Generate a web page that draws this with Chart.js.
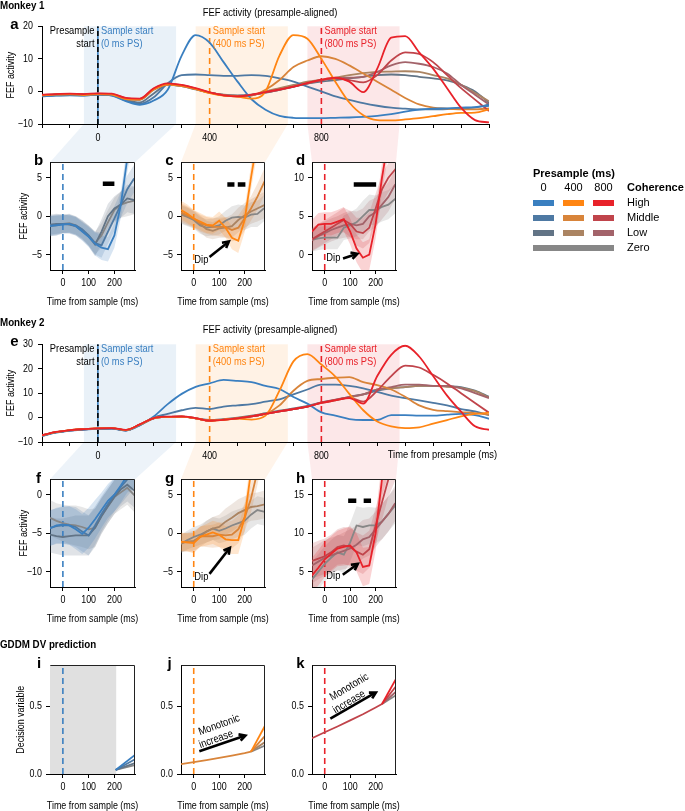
<!DOCTYPE html>
<html>
<head>
<meta charset="utf-8">
<script src="https://cdn.jsdelivr.net/npm/chart.js@4.4.1/dist/chart.umd.min.js"></script>
<style>
  body { margin: 0; background: #fff; }
  #fig { position: relative; width: 685px; height: 811px; overflow: hidden;
         font-family: "Liberation Sans", Arial, sans-serif; color: #000; }
  #fig canvas { position: absolute; }
  .t { position: absolute; white-space: nowrap; line-height: 1; }
  .sw { position: absolute; height: 6px; }
</style>
</head>
<body>
<div id="fig"><canvas id="bg" width="685" height="811" style="left:0;top:0"></canvas></div>
<script>
// ---------- data ----------
// presample-aligned time axis (ms from presample start)
const tPre = [-200,-150,-100,-50,0,50,100,150,200,250,300,350,400,450,500,550,600,650,700,750,800,850,900,950,1000,1050,1100,1150,1200,1250,1300,1350,1400];
const sampleStarts = [0, 400, 800];
const zoomWin = [-50, 280];

// Monkey 1, panel a
const m1BlueHigh   = [-1.5,-1.3,-1.2,-1.3,-1.0,-1.3,-3.0,-4.1,-2.8,0.5,11.0,17.3,15.0,9.0,3.0,-2.4,-5.6,-7.5,-8.1,-8.2,-8.2,-8.1,-8.0,-7.8,-7.5,-7.0,-6.2,-5.6,-5.3,-5.2,-5.0,-4.8,-4.4];
const m1BlueMid    = [-1.4,-1.2,-1.1,-1.2,-1.0,-1.2,-2.8,-3.8,-1.8,2.5,5.0,5.2,5.0,4.8,4.8,5.0,4.8,4.0,3.0,1.5,0.0,-1.5,-2.6,-3.6,-4.4,-5.0,-5.3,-5.5,-5.5,-5.4,-5.2,-5.0,-4.0];
const m1BlueLow    = [-1.3,-1.1,-1.0,-1.2,-0.9,-1.1,-2.6,-3.4,-0.6,2.0,1.6,0.6,-0.4,-1.0,-1.2,-1.0,-0.4,0.5,1.5,2.4,3.0,3.5,4.0,4.5,5.0,5.2,5.0,4.5,4.0,3.4,2.0,0.0,-3.5];
const m1OrangeHigh = [-1.2,-1.0,-0.9,-1.1,-0.8,-1.0,-2.3,-2.4,0.7,2.2,1.8,0.8,-0.5,-1.3,-1.6,-2.2,0.0,11.0,17.3,16.2,10.0,3.0,-3.4,-7.3,-8.8,-8.9,-8.6,-8.2,-7.6,-7.0,-6.6,-6.5,-5.5];
const m1OrangeMid  = [-1.2,-1.0,-0.9,-1.1,-0.9,-1.0,-2.4,-2.5,0.6,2.0,1.7,0.7,-0.4,-1.2,-1.5,-1.3,0.5,3.5,7.5,9.5,10.8,10.0,8.0,5.5,3.0,0.5,-2.0,-4.0,-5.0,-5.3,-5.5,-5.5,-5.2];
const m1OrangeLow  = [-1.1,-0.9,-0.8,-1.0,-0.8,-1.0,-2.3,-2.6,0.5,2.0,1.6,0.7,-0.4,-1.1,-1.4,-1.2,0.0,1.0,2.0,3.0,3.6,4.2,5.0,5.6,6.0,6.1,6.2,6.0,5.0,4.0,2.0,-0.5,-3.0];
const m1RedHigh    = [-1.0,-0.8,-0.7,-0.8,-0.6,-0.7,-2.0,-2.2,1.0,2.5,2.0,1.0,-0.3,-1.2,-1.5,-1.0,-0.2,0.6,1.5,2.6,3.6,4.2,3.0,-0.2,7.0,16.5,17.0,12.0,7.0,1.0,-5.0,-8.8,-9.5];
const m1RedMid     = [-1.1,-0.9,-0.8,-0.9,-0.7,-0.8,-2.1,-2.3,0.8,2.3,1.9,0.9,-0.3,-1.2,-1.5,-1.1,-0.3,0.5,1.5,2.5,3.5,4.0,3.5,2.8,5.0,9.5,12.0,11.5,9.0,5.0,1.0,-2.5,-6.0];
const m1RedLow     = [-1.1,-0.9,-0.8,-0.9,-0.8,-0.9,-2.2,-2.4,0.7,2.1,1.8,0.8,-0.4,-1.1,-1.4,-1.1,-0.3,0.5,1.4,2.4,3.4,4.0,4.2,4.5,6.0,8.0,9.0,8.5,7.5,5.5,2.0,-1.0,-4.0];

// Monkey 2, panel e
const m2BlueHigh   = [-7.5,-6.2,-5.3,-4.9,-4.6,-4.5,-5.3,-3.2,0.5,5.5,9.7,12.6,14.0,15.4,15.0,14.5,13.0,11.7,8.4,5.7,2.1,0.8,-0.6,-1.0,-1.0,1.0,1.0,0.8,0.8,1.2,1.5,1.0,-0.5];
const m2BlueMid    = [-7.4,-6.1,-5.2,-4.8,-4.5,-4.4,-5.2,-3.0,0.0,1.5,3.0,4.0,3.5,4.5,5.0,5.5,6.5,7.5,9.5,11.5,13.5,13.5,13.0,12.0,10.5,9.0,8.0,7.0,6.0,5.0,3.5,2.5,1.0];
const m2BlueLow    = [-7.3,-6.0,-5.2,-4.8,-4.5,-4.4,-5.2,-3.0,-0.3,0.3,0.4,-0.3,-1.0,-0.6,0.0,0.8,1.8,2.8,3.8,4.8,6.2,7.2,8.5,9.5,11.0,12.0,12.5,13.0,13.0,12.8,12.5,11.0,8.5];
const m2OrangeHigh = [-7.3,-6.0,-5.1,-4.7,-4.4,-4.3,-5.1,-2.9,-0.2,0.3,0.4,-0.3,-1.3,-0.9,-0.4,-0.8,0.8,11.0,23.0,26.0,21.7,16.8,9.7,3.0,-1.6,-3.6,-4.3,-4.0,-2.5,-1.0,0.5,1.5,2.0];
const m2OrangeMid  = [-7.3,-6.0,-5.1,-4.7,-4.4,-4.3,-5.1,-2.9,-0.2,0.3,0.4,-0.3,-1.2,-0.8,-0.2,0.6,1.5,5.0,11.0,15.0,15.8,16.3,16.6,14.5,13.3,11.5,8.5,5.0,3.2,2.6,2.2,1.8,1.2];
const m2OrangeLow  = [-7.3,-6.0,-5.2,-4.8,-4.5,-4.4,-5.2,-3.0,-0.3,0.3,0.4,-0.3,-1.2,-0.8,-0.3,0.5,1.5,2.5,3.5,4.5,6.0,7.0,8.3,9.5,11.5,12.0,12.5,13.0,13.0,12.6,12.2,10.8,8.2];
const m2RedHigh    = [-7.2,-5.9,-5.1,-4.7,-4.4,-4.3,-5.0,-2.8,-0.2,0.4,0.5,-0.2,-1.3,-0.9,-0.3,0.5,1.5,2.5,3.5,4.5,6.0,7.0,8.0,5.7,17.0,25.7,29.4,25.0,17.0,9.0,2.4,-3.6,-5.0];
const m2RedMid     = [-7.3,-6.0,-5.2,-4.8,-4.5,-4.4,-5.1,-2.9,-0.3,0.3,0.4,-0.3,-1.2,-0.8,-0.3,0.5,1.5,2.5,3.5,4.5,6.1,7.2,8.2,6.5,11.0,17.0,21.3,20.5,17.5,14.0,10.0,6.0,2.0];
const m2RedLow     = [-7.3,-6.0,-5.2,-4.8,-4.5,-4.4,-5.2,-3.0,-0.3,0.3,0.4,-0.3,-1.2,-0.8,-0.3,0.5,1.5,2.5,3.5,4.5,6.2,7.3,8.5,9.5,11.5,12.5,13.5,13.5,13.0,13.0,12.0,10.0,8.0];

// sample-aligned zoom panels (ms from sample start)
const tS = [-50,-25,0,25,50,75,100,125,150,175,200,225,250,275,300];

const bHigh = [-1.3,-1.2,-1.1,-1.0,-1.3,-2.0,-2.7,-3.6,-4.1,-4.3,-2.5,1.5,7.5,12,16];
const bMid  = [-1.2,-1.1,-1.0,-1.0,-1.2,-1.7,-2.5,-3.5,-3.8,-2.0,-0.3,1.5,3.5,4.8,5.5];
const bLow  = [-1.1,-1.0,-1.0,-1.1,-1.3,-1.9,-2.6,-3.7,-2.0,0.0,1.0,1.5,2.3,2.1,2.5];
const bZero = [-1.3,-1.2,-1.0,-0.9,-1.2,-1.8,-2.5,-3.5,-2.5,-0.8,0.8,1.5,1.8,2.0,2.2];
const bErr  = [1.3,1.3,1.2,1.2,1.2,1.2,1.3,1.5,1.6,1.6,1.6,1.7,1.8,1.8,1.8];
const bBars = [[155, 200, 4.2]];

const cHigh = [0.8,0.3,-0.3,-0.7,-1.1,-1.2,-0.6,-1.5,-2.8,-3.2,-0.5,5,10,15,20];
const cMid  = [0.5,0.1,-0.3,-0.9,-1.2,-1.4,-1.4,-1.4,-1.8,-1.5,-0.3,1.0,2.5,4.3,6];
const cLow  = [0.3,0.0,-0.4,-1.0,-1.7,-1.9,-1.6,-1.5,-1.3,-0.5,0.1,0.6,1.0,1.4,1.6];
const cZero = [0.2,-0.1,-0.5,-1.2,-1.5,-1.4,-1.2,-0.6,-0.2,-0.1,-0.2,0.2,0.3,1.0,1.2];
const cErr  = [1.2,1.2,1.1,1.1,1.1,1.1,1.2,1.3,1.5,1.6,1.6,1.6,1.7,1.7,1.7];
const cBars = [[132, 160, 4.1], [173, 203, 4.1]];

const dHigh = [3.0,3.9,4.0,4.0,4.3,4.6,3.0,0.8,-0.4,0.0,4.0,10,15,20,25];
const dMid  = [2.0,2.5,3.0,3.5,4.0,4.5,4.0,3.0,2.8,3.5,6.0,8.5,10,11,12];
const dLow  = [1.9,2.4,2.8,3.2,3.5,3.8,4.0,3.8,4.0,5.0,5.5,6.5,7.5,9,10];
const dZero = [1.9,2.1,2.2,2.2,2.2,3.5,3.8,4.2,5.0,5.8,5.8,6.2,6.5,7.2,7.5];
const dErr  = [1.5,1.5,1.5,1.5,1.5,1.6,1.7,1.8,2.0,2.0,1.9,1.9,1.9,1.9,1.9];
const dBars = [[114, 202, 9.1]];

const fHigh = [-4.4,-4.0,-3.9,-4.0,-4.5,-5.1,-4.3,-3.2,-2.0,-0.8,0.0,1.2,2.5,3.0,3.5];
const fMid  = [-4.3,-4.1,-4.0,-4.0,-4.2,-4.8,-5.3,-4.0,-2.5,-1.2,0.0,1.0,2.0,3.0,3.5];
const fLow  = [-5.2,-5.4,-5.5,-5.4,-5.3,-5.3,-5.3,-4.3,-2.8,-1.5,-0.3,0.7,1.3,0.6,0.3];
const fZero = [-3.0,-3.4,-3.7,-3.9,-4.0,-4.2,-4.5,-4.3,-2.7,-1.5,-0.3,0.3,0.9,0.0,-0.8];
const fErr  = [2.3,2.3,2.4,2.5,2.6,2.6,2.6,2.5,2.3,2.2,2.2,2.2,2.2,2.2,2.2];

const gHigh = [-1.1,-1.2,-1.3,-0.5,-0.2,0.1,-0.2,-0.8,-0.9,-0.9,2.0,8,14,20,25];
const gMid  = [-1.2,-1.2,-1.2,-0.4,-0.4,-0.4,-0.2,-0.3,-0.2,0.5,2.0,4.5,8,12,15];
const gLow  = [-1.3,-1.1,-1.0,-0.5,0.2,0.6,0.8,1.5,2.0,2.6,3.0,3.4,3.5,3.7,3.8];
const gZero = [-1.4,-0.9,-0.5,-0.2,0.2,0.6,0.3,0.6,1.0,1.3,1.6,2.4,3.0,2.8,2.9];
const gErr  = [1.2,1.2,1.3,1.3,1.4,1.5,1.6,1.7,1.8,1.8,1.8,1.8,1.8,1.8,1.8];

const hHigh = [4.5,5.5,6.6,7.3,8.0,8.2,8.4,7.5,5.6,5.8,10,17,20,24,28];
const hMid  = [6.4,6.7,7.0,7.5,8.2,8.4,8.2,7.6,7.2,7.9,11,14,17,19,21];
const hLow  = [5.8,6.3,6.8,7.1,7.4,7.7,8.0,8.5,9.2,9.5,10.5,11.5,12.5,13.8,14.5];
const hZero = [4.0,5.0,6.0,6.8,7.5,7.2,8.8,11,10.8,11,11,11.5,12.5,13.5,14];
const hErr  = [2.3,2.3,2.3,2.3,2.3,2.4,2.5,2.5,2.5,2.4,2.3,2.3,2.3,2.3,2.3];
const hBars = [[92, 124, 14.2], [153, 182, 14.2]];

// GDDM decision-variable predictions
const iShade = [-50, 207];
const iFanT  = [205, 280];
const iHigh = [0.03, 0.14], iMid = [0.03, 0.108], iLow = [0.03, 0.08], iZero = [0.03, 0.065];

const dvBaseT = [-50, 0, 50, 100, 150, 200, 225];
const jBase = [0.072, 0.088, 0.102, 0.118, 0.135, 0.153, 0.165];
const jFanT = [225, 280];
const jHigh = [0.165, 0.355], jMid = [0.165, 0.28], jLow = [0.165, 0.235], jZero = [0.165, 0.21];

const kBase = [0.263, 0.307, 0.35, 0.395, 0.44, 0.49, 0.515];
const kFanT = [225, 280];
const kHigh = [0.515, 0.70], kMid = [0.515, 0.645], kLow = [0.515, 0.605], kZero = [0.515, 0.58];

// axis ticks
const preTicks = [-200,-100,0,100,200,300,400,500,600,700,800,900,1000,1100,1200,1300,1400];
const preLabels = [0, 400, 800];
const sTicks = [0, 100, 200];

// ---------- styles ----------
const SQUEEZE = 0.85;   // the figure uses a condensed face; squeeze canvas text to match
const FONT = '"Liberation Sans", Arial, sans-serif';
Chart.defaults.font.family = FONT;
Chart.defaults.font.size = 10.5;
Chart.defaults.color = '#000';

// draw all canvas text horizontally condensed around its anchor point
// (maxWidth is dropped so axis titles are not squashed to the plot width)
const rawFillText = CanvasRenderingContext2D.prototype.fillText;
CanvasRenderingContext2D.prototype.fillText = function (t, x, y) {
  this.save();
  this.translate(x, y);
  this.scale(SQUEEZE, 1);
  rawFillText.call(this, t, 0, 0);
  this.restore();
};

const COL = {
  blue:   ['#3a7fc0', '#4e79a3', '#627486'],
  orange: ['#ff8512', '#d8843a', '#ab8462'],
  red:    ['#e8222a', '#c0444b', '#a3636a'],
  zero: '#878787'
};
const groupCols = [COL.blue, COL.orange, COL.red];

function rgba(hex, a) {
  const n = parseInt(hex.slice(1), 16);
  return `rgba(${n >> 16},${(n >> 8) & 255},${n & 255},${a})`;
}

const fig = document.getElementById('fig');

// ---------- plugins ----------
const spanPlugin = {
  id: 'spans',
  beforeDatasetsDraw(chart, args, o) {
    const {ctx, chartArea: ca} = chart, xs = chart.scales.x;
    (o.list || []).forEach(s => {
      const x1 = Math.max(ca.left, xs.getPixelForValue(s.from));
      const x2 = Math.min(ca.right, xs.getPixelForValue(s.to));
      ctx.fillStyle = s.color;
      ctx.fillRect(x1, ca.top, x2 - x1, ca.bottom - ca.top);
    });
  }
};

const boxPlugin = {
  id: 'box',
  afterDraw(chart, args, o) {
    if (!o.on) return;
    const {ctx, chartArea: ca} = chart;
    ctx.save();
    ctx.strokeStyle = '#222';
    ctx.lineWidth = 1;
    ctx.beginPath();
    ctx.moveTo(Math.round(ca.left) + 0.5, Math.round(ca.top) + 0.5);
    ctx.lineTo(Math.round(ca.right) - 0.5, Math.round(ca.top) + 0.5);
    ctx.lineTo(Math.round(ca.right) - 0.5, Math.round(ca.bottom));
    ctx.stroke();
    ctx.restore();
  }
};

const notePlugin = {
  id: 'notes',
  afterDatasetsDraw(chart, args, o) {
    const {ctx} = chart, xs = chart.scales.x, ys = chart.scales.y;
    ctx.save();
    (o.arrows || []).forEach(a => {
      const x1 = xs.getPixelForValue(a[0]), y1 = ys.getPixelForValue(a[1]);
      const x2 = xs.getPixelForValue(a[2]), y2 = ys.getPixelForValue(a[3]);
      const ang = Math.atan2(y2 - y1, x2 - x1), hl = 7;
      ctx.strokeStyle = '#000';
      ctx.lineWidth = 2.6;
      ctx.lineCap = 'butt';
      ctx.beginPath();
      ctx.moveTo(x1, y1);
      ctx.lineTo(x2 - Math.cos(ang) * 1.5, y2 - Math.sin(ang) * 1.5);
      ctx.stroke();
      ctx.lineJoin = 'miter';
      ctx.beginPath();
      ctx.moveTo(x2 - hl * Math.cos(ang - 0.5), y2 - hl * Math.sin(ang - 0.5));
      ctx.lineTo(x2, y2);
      ctx.lineTo(x2 - hl * Math.cos(ang + 0.5), y2 - hl * Math.sin(ang + 0.5));
      ctx.stroke();
    });
    (o.texts || []).forEach(t => {
      ctx.save();
      ctx.translate(xs.getPixelForValue(t.x), ys.getPixelForValue(t.y));
      ctx.rotate((t.rot || 0) * Math.PI / 180);
      ctx.font = `${t.size || 11}px ${FONT}`;
      ctx.fillStyle = t.color || '#000';
      ctx.textAlign = t.align || 'center';
      ctx.textBaseline = 'middle';
      ctx.fillText(t.text, 0, 0);
      ctx.restore();
    });
    ctx.restore();
  }
};

// ---------- helpers ----------
function pts(xs, ys) { return xs.map((x, i) => ({x, y: ys[i]})); }

function line(xs, ys, color, width, order, extra) {
  return Object.assign({data: pts(xs, ys), borderColor: color, borderWidth: width,
    pointRadius: 0, fill: false, tension: 0, order}, extra || {});
}

function band(xs, ys, err, color) {
  return [
    {data: xs.map((x, i) => ({x, y: ys[i] + err[i]})), borderWidth: 0, pointRadius: 0,
     fill: '+1', backgroundColor: rgba(color, 0.2), order: 10},
    {data: xs.map((x, i) => ({x, y: ys[i] - err[i]})), borderWidth: 0, pointRadius: 0,
     fill: false, order: 10}
  ];
}

function vline(x, lim, color, dash, width, order) {
  return {data: [{x, y: lim[0]}, {x, y: lim[1]}], borderColor: color, borderWidth: width || 1.5,
    borderDash: dash || [], pointRadius: 0, fill: false, order: order ?? 5};
}

function fmtTick(v, o) {
  if (o.show && !o.show.includes(v)) return '';
  const s = o.dec ? v.toFixed(o.dec) : String(v);
  return s.replace('-', '\u2212');
}

function axis(o, dir, size) {
  return {
    type: 'linear', min: o.min, max: o.max,
    afterBuildTicks: s => { s.ticks = o.ticks.map(v => ({value: v})); },
    afterFit: s => { if (dir === 'x') s.height = size; else s.width = size; },
    ticks: {autoSkip: false, maxRotation: 0, padding: o.pad ?? 3, color: '#000',
            font: {size: 10.5}, callback: v => fmtTick(v, o)},
    grid: {drawOnChartArea: false, drawTicks: true, tickLength: 4, tickColor: '#000', tickWidth: 1},
    border: {display: true, color: '#000', width: 1},
    title: {display: !!o.title, text: o.title || '', padding: 0, color: '#000', font: {size: 10.5}}
  };
}

// box: [L, T, R, B] of plot area; pad: [left, top, right, bottom]
function panel(box, pad, opt) {
  const cv = document.createElement('canvas');
  const w = box[2] - box[0] + pad[0] + pad[2], h = box[3] - box[1] + pad[1] + pad[3];
  cv.width = w; cv.height = h;
  cv.style.left = (box[0] - pad[0]) + 'px';
  cv.style.top = (box[1] - pad[1]) + 'px';
  cv.style.width = w + 'px'; cv.style.height = h + 'px';
  fig.appendChild(cv);
  const chart = new Chart(cv.getContext('2d'), {
    type: 'line',
    data: {datasets: opt.datasets},
    options: {
      responsive: false, animation: false, devicePixelRatio: 1,
      layout: {padding: {left: 0, top: pad[1], right: pad[2], bottom: 0}},
      scales: {x: axis(opt.x, 'x', pad[3]), y: axis(opt.y, 'y', pad[0])},
      plugins: {legend: {display: false}, tooltip: {enabled: false},
                spans: {list: opt.spans || []}, box: {on: !!opt.box}, notes: opt.notes || {}}
    },
    plugins: [spanPlugin, boxPlugin, notePlugin]
  });
  chart.$left = box[0] - pad[0];
  chart.$top = box[1] - pad[1];
  return chart;
}

function text(str, x, y, o) {
  o = o || {};
  const d = document.createElement('div');
  d.className = 't';
  d.textContent = str;
  const size = o.size || 10.5;
  d.style.fontSize = size + 'px';
  d.style.top = (y - size / 2) + 'px';
  d.style.left = x + 'px';
  if (o.bold) d.style.fontWeight = 'bold';
  if (o.color) d.style.color = o.color;
  const sx = o.squeeze ? ` scaleX(${SQUEEZE})` : '';
  const align = o.align || 'left';
  d.style.transformOrigin = align + ' center';
  if (align === 'center') d.style.transform = 'translateX(-50%)' + sx;
  else if (align === 'right') d.style.transform = 'translateX(-100%)' + sx;
  else d.style.transform = sx || 'none';
  fig.appendChild(d);
}

// ---------- presample-aligned panels (a, e) ----------
function bigPanel(box, series, yLim, yTicks, labelY) {
  const ds = [];
  // highs on top, then middles, lows
  [0, 1, 2].forEach(c => {
    [2, 1, 0].forEach(g => ds.push(line(tPre, series[g][c], groupCols[g][c], 1.8, c * 3 + (2 - g),
      {cubicInterpolationMode: 'monotone'})));
  });
  ds.push(vline(sampleStarts[0], yLim, COL.blue[0], [], 1.6, 6));
  ds.push(vline(sampleStarts[0], yLim, '#000', [5, 3], 1.6, 5));
  ds.push(vline(sampleStarts[1], yLim, COL.orange[0], [6, 4], 1.6, 5));
  ds.push(vline(sampleStarts[2], yLim, COL.red[0], [6, 4], 1.6, 5));
  const spans = sampleStarts.map((s, g) => ({from: s + zoomWin[0], to: s + zoomWin[1],
    color: rgba(groupCols[g][0], 0.11)}));
  const texts = [
    {x: -12, y: labelY[0], text: 'Presample', align: 'right'},
    {x: -12, y: labelY[1], text: 'start', align: 'right'}
  ];
  sampleStarts.forEach((s, g) => {
    texts.push({x: s + 11, y: labelY[0], text: 'Sample start', align: 'left', color: groupCols[g][0]});
    texts.push({x: s + 11, y: labelY[1], text: `(${s} ms PS)`, align: 'left', color: groupCols[g][0]});
  });
  return panel(box, [37, 8, 8, 22], {
    datasets: ds, spans, notes: {texts},
    x: {min: preTicks[0], max: preTicks[preTicks.length - 1], ticks: preTicks, show: preLabels, pad: 4},
    y: {min: yLim[0], max: yLim[1], ticks: yTicks, title: 'FEF activity', pad: 5}
  });
}

const chartA = bigPanel([42, 23, 489, 124],
  [[m1BlueHigh, m1BlueMid, m1BlueLow], [m1OrangeHigh, m1OrangeMid, m1OrangeLow], [m1RedHigh, m1RedMid, m1RedLow]],
  [-10, 20], [-10, 0, 10, 20], [18.7, 14.6]);
const chartE = bigPanel([42, 341, 489, 442],
  [[m2BlueHigh, m2BlueMid, m2BlueLow], [m2OrangeHigh, m2OrangeMid, m2OrangeLow], [m2RedHigh, m2RedMid, m2RedLow]],
  [-10, 30], [-10, 0, 10, 20, 30], [28.0, 22.8]);

// ---------- sample-aligned zoom panels ----------
function zoomPanel(box, g, series, err, yLim, yTicks, bars, notes, yTitle) {
  const cols = [groupCols[g][0], groupCols[g][1], groupCols[g][2], COL.zero];
  const ds = [];
  series.forEach((s, c) => ds.push(line(tS, s, cols[c], 1.8, c)));
  series.forEach((s, c) => ds.push(...band(tS, s, err, cols[c])));
  ds.push(vline(sampleStarts[0], yLim, groupCols[g][0], [6, 4], 1.6, 5));
  (bars || []).forEach(b => ds.push({data: [{x: b[0], y: b[2]}, {x: b[1], y: b[2]}],
    borderColor: '#000', borderWidth: 4.5, borderCapStyle: 'butt', pointRadius: 0, fill: false, order: -1}));
  return panel(box, [32, 8, 4, 38], {
    datasets: ds, box: true, notes,
    x: {min: zoomWin[0], max: zoomWin[1], ticks: sTicks, title: 'Time from sample (ms)'},
    y: {min: yLim[0], max: yLim[1], ticks: yTicks, title: yTitle, pad: 4}
  });
}

const dipOpts = (tx, ty, ax) => ({texts: [{x: tx, y: ty, text: 'Dip'}], arrows: [ax]});

const row1 = [160, 270], row2 = [477, 587], row3 = [663, 774];
const colX = [[50, 135], [181, 265], [312, 396]];

const chartB = zoomPanel([colX[0][0], row1[0], colX[0][1], row1[1]], 0, [bHigh, bMid, bLow, bZero], bErr,
  [-7, 7], [-5, 0, 5], bBars, {}, 'FEF activity');
const chartC = zoomPanel([colX[1][0], row1[0], colX[1][1], row1[1]], 1, [cHigh, cMid, cLow, cZero], cErr,
  [-7, 7], [-5, 0, 5], cBars, dipOpts(30, -5.7, [62, -5.3, 138, -3.3]));
const chartD = zoomPanel([colX[2][0], row1[0], colX[2][1], row1[1]], 2, [dHigh, dMid, dLow, dZero], dErr,
  [-2, 12], [0, 5, 10], dBars, dipOpts(34, -0.5, [72, -0.5, 128, 0.1]));

const chartF = zoomPanel([colX[0][0], row2[0], colX[0][1], row2[1]], 0, [fHigh, fMid, fLow, fZero], fErr,
  [-12, 2], [-10, -5, 0], [], {}, 'FEF activity');
const chartG = zoomPanel([colX[1][0], row2[0], colX[1][1], row2[1]], 1, [gHigh, gMid, gLow, gZero], gErr,
  [-7, 7], [-5, 0, 5], [], dipOpts(30, -5.7, [62, -5.3, 142, -1.9]));
const chartH = zoomPanel([colX[2][0], row2[0], colX[2][1], row2[1]], 2, [hHigh, hMid, hLow, hZero], hErr,
  [3, 17], [5, 10, 15], hBars, dipOpts(34, 4.4, [71, 4.6, 130, 6.0]));

// ---------- GDDM panels ----------
function dvPanel(box, g, baseT, base, fanT, fans, extra, yTitle) {
  const cols = [groupCols[g][0], groupCols[g][1], groupCols[g][2], COL.zero];
  const ds = [];
  fans.forEach((f, c) => ds.push(line(fanT, f, cols[c], 1.8, c)));
  if (base) ds.push(line(baseT, base, groupCols[g][1], 1.8, 4));
  ds.push(vline(sampleStarts[0], [0, 0.8], groupCols[g][0], [6, 4], 1.6, 5));
  return panel(box, [35, 8, 4, 38], Object.assign({
    datasets: ds, box: true,
    x: {min: zoomWin[0], max: zoomWin[1], ticks: sTicks, title: 'Time from sample (ms)'},
    y: {min: 0, max: 0.8, ticks: [0, 0.5], dec: 1, title: yTitle, pad: 4}
  }, extra));
}

const chartI = dvPanel([colX[0][0], row3[0], colX[0][1], row3[1]], 0, null, null, iFanT,
  [iHigh, iMid, iLow, iZero], {spans: [{from: iShade[0], to: iShade[1], color: '#e0e0e0'}]}, 'Decision variable');
const chartJ = dvPanel([colX[1][0], row3[0], colX[1][1], row3[1]], 1, dvBaseT, jBase, jFanT,
  [jHigh, jMid, jLow, jZero], {notes: {
    texts: [{x: 100, y: 0.36, text: 'Monotonic', rot: -20}, {x: 88, y: 0.255, text: 'increase', rot: -20}],
    arrows: [[22, 0.167, 203, 0.283]]}});
const chartK = dvPanel([colX[2][0], row3[0], colX[2][1], row3[1]], 2, dvBaseT, kBase, kFanT,
  [kHigh, kMid, kLow, kZero], {notes: {
    texts: [{x: 96, y: 0.64, text: 'Monotonic', rot: -31}, {x: 96, y: 0.53, text: 'increase', rot: -31}],
    arrows: [[22, 0.408, 201, 0.60]]}});

// ---------- connecting trapezoids ----------
(function () {
  const ctx = document.getElementById('bg').getContext('2d');
  [[chartA, [chartB, chartC, chartD]], [chartE, [chartF, chartG, chartH]]].forEach(([big, smalls]) => {
    smalls.forEach((sm, g) => {
      const xs = big.scales.x, ba = big.chartArea, sa = sm.chartArea;
      const yTop = big.$top + ba.bottom, yBot = sm.$top + sa.top;
      ctx.fillStyle = rgba(groupCols[g][0], 0.09);
      ctx.beginPath();
      ctx.moveTo(big.$left + xs.getPixelForValue(sampleStarts[g] + zoomWin[0]), yTop);
      ctx.lineTo(big.$left + xs.getPixelForValue(sampleStarts[g] + zoomWin[1]), yTop);
      ctx.lineTo(sm.$left + sa.right, yBot);
      ctx.lineTo(sm.$left + sa.left, yBot);
      ctx.closePath();
      ctx.fill();
    });
  });
})();

// ---------- headings, panel letters, legend ----------
text('Monkey 1', 0, 6, {bold: true, size: 11.5, squeeze: true});
text('FEF activity (presample-aligned)', 270, 12, {align: 'center', size: 11, squeeze: true});
text('Monkey 2', 0, 323, {bold: true, size: 11.5, squeeze: true});
text('FEF activity (presample-aligned)', 270, 329, {align: 'center', size: 11, squeeze: true});
text('Time from presample (ms)', 497, 454, {align: 'right', size: 11, squeeze: true});
text('GDDM DV prediction', 0, 645, {bold: true, size: 11.5, squeeze: true});

[['a', 14.5, 23], ['e', 14.5, 340.5],
 ['b', 38.5, 159.5], ['c', 169.5, 159.5], ['d', 300.5, 159.5],
 ['f', 38.5, 477], ['g', 169.5, 477], ['h', 300.5, 477],
 ['i', 39, 662.5], ['j', 169.5, 662.5], ['k', 300.5, 662.5]].forEach(([l, x, y]) =>
  text(l, x, y, {bold: true, size: 15, align: 'center'}));

text('Presample (ms)', 533, 173, {bold: true, size: 11});
const legCols = [[533, 554], [563, 584], [593, 614]];
sampleStarts.forEach((s, g) => text(String(s), (legCols[g][0] + legCols[g][1]) / 2, 187, {align: 'center', size: 11}));
text('Coherence', 627, 187, {bold: true, size: 11});
const legRows = [202.5, 217.5, 232.5, 247.5];
['High', 'Middle', 'Low', 'Zero'].forEach((name, c) => {
  text(name, 627, legRows[c], {size: 11});
  const spans = c < 3 ? legCols.map((lc, g) => [lc, groupCols[g][c]]) : [[[533, 614], COL.zero]];
  spans.forEach(([lc, col]) => {
    const d = document.createElement('div');
    d.className = 'sw';
    d.style.left = lc[0] + 'px';
    d.style.width = (lc[1] - lc[0]) + 'px';
    d.style.top = (legRows[c] - 3) + 'px';
    d.style.background = col;
    fig.appendChild(d);
  });
});
</script>
</body>
</html>
